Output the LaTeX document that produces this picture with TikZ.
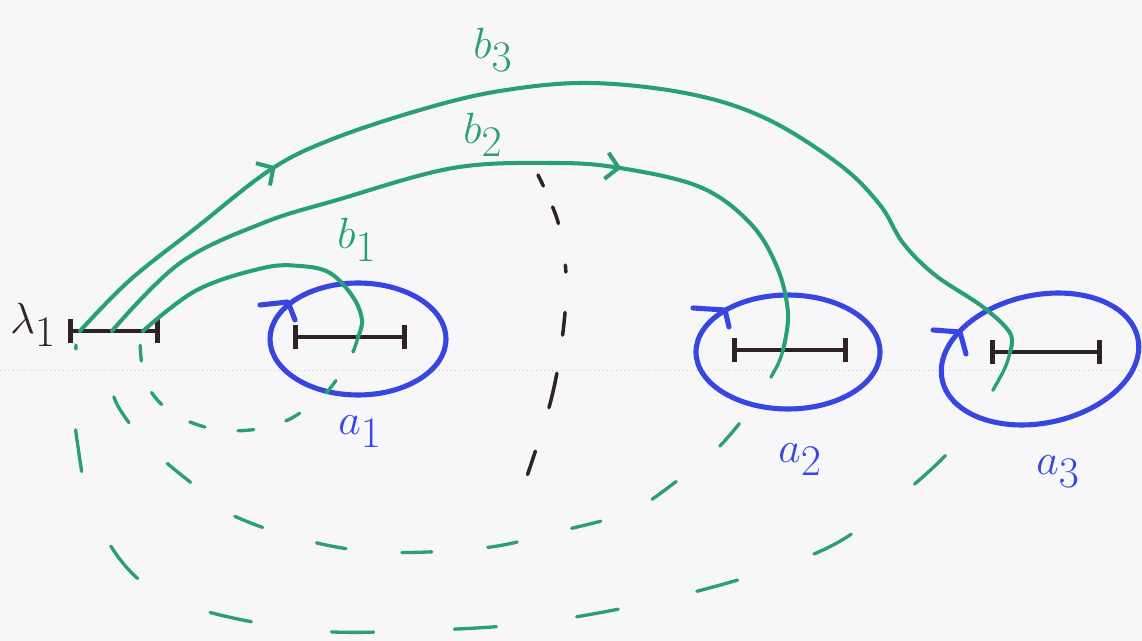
\documentclass[tikz,border=0pt]{standalone}
\usetikzlibrary{arrows.meta,decorations.markings}
\definecolor{pen}{RGB}{45,35,38}
\definecolor{gr}{RGB}{40,160,115}
\definecolor{bl}{RGB}{55,70,225}
\definecolor{paper}{RGB}{247,247,250}
\begin{document}
\begin{tikzpicture}[x=0.02cm,y=0.02cm,
  interval/.style={draw=pen,line width=2.8pt,{Bar[width=14pt]}-{Bar[width=14pt]}},
  loopel/.style={draw=bl,line width=2.9pt},
  barb/.style={draw=bl,line width=2.9pt,line cap=round,line join=round},
  gpath/.style={draw=gr,line width=2.3pt,line cap=round},
  dpath/.style={draw=gr,line width=1.9pt,line cap=round},
  sep/.style={draw=pen,line width=2pt,line cap=round},
  lab/.style={inner sep=0pt,font=\fontsize{34}{38}\selectfont},
  midarrow/.style={postaction={decorate},decoration={markings,
     mark=at position #1 with {\arrow{Straight Barb[length=7pt,width=15pt]}}}}]
\fill[paper] (0,0) rectangle (1142,-641);
\useasboundingbox (0,0) rectangle (1142,-641);
\draw[gray!45,line width=0.4pt,dotted] (0,-370) -- (1142,-370);

% intervals
\coordinate (l0) at (68,-331);  \coordinate (r0) at (160,-331);
\coordinate (l1) at (293,-337); \coordinate (r1) at (407,-337);
\coordinate (l2) at (732,-350); \coordinate (r2) at (848,-350);
\coordinate (l3) at (990,-352); \coordinate (r3) at (1102,-352);
\draw[interval] (l0) -- (r0);
\draw[interval] (l1) -- (r1);
\draw[interval] (l2) -- (r2);
\draw[interval] (l3) -- (r3);

% loops round a_i
\coordinate (c1) at (358,-339);
\coordinate (c2) at (788,-352);
\coordinate (c3) at (1040,-359);
\draw[loopel] (c1) ellipse [x radius=88,y radius=56];
\draw[loopel] (c2) ellipse [x radius=92,y radius=57];
\draw[loopel,rotate around={12:(c3)}] (c3) ellipse [x radius=100,y radius=64];
\draw[barb] (260,-305) -- (288,-302) -- (295,-320);
\draw[barb] (693,-308) -- (725,-310) -- (729,-327);
\draw[barb] (933,-330) -- (960,-332) -- (966,-354);

% start / end points on intervals
\coordinate (s1) at (143,-331); \coordinate (e1) at (358,-337);
\coordinate (s2) at (112,-331); \coordinate (e2) at (783,-350);
\coordinate (s3) at (80,-331);  \coordinate (e3) at (1010,-352);

% solid green paths
\draw[gpath] plot[smooth,tension=0.6] coordinates {(s1) (197,-290) (263,-268) (300,-266) (330,-273) (353,-297) (362,-320) (e1)};
\draw[gpath,midarrow=0.665] plot[smooth,tension=0.6] coordinates {(s2) (180,-263) (263,-223) (337,-200) (453,-168) (553,-163) (620,-168) (700,-187) (750,-223) (777,-267) (788,-313) (e2)};
\draw[gpath,midarrow=0.23] plot[smooth,tension=0.6] coordinates {(s3) (130,-280) (197,-227) (270,-170) (330,-140) (420,-110) (500,-91) (590,-83) (690,-94) (767,-119) (840,-165) (880,-205) (903,-243) (935,-275) (983,-307) (1010,-333) (e3)};

% dashed green returns
\draw[dpath,dash pattern=on 9pt off 19pt] plot[smooth,tension=0.6] coordinates {(e1) (350,-358) (327,-392) (300,-413) (278,-424) (250,-430) (219,-430) (190,-422) (168,-410) (150,-390) (142,-365) (140,-340)};
\draw[dpath,dash pattern=on 17pt off 32pt] plot[smooth,tension=0.6] coordinates {(e2) (776,-368) (752,-407) (716,-450) (677,-481) (629,-512) (556,-532) (483,-548) (378,-552) (297,-538) (228,-513) (195,-486) (158,-455) (127,-420) (112,-390) (110,-345)};
\draw[dpath,dash pattern=on 24pt off 46pt] plot[smooth,tension=0.6] coordinates {(e3) (1003,-372) (978,-414) (949,-452) (895,-500) (823,-550) (698,-591) (556,-620) (432,-630) (297,-629) (160,-594) (97,-522) (77,-440) (75,-385) (76,-345)};

% black dashed separator
\coordinate (t0) at (538,-175); \coordinate (t1) at (525,-482);
\draw[sep,dash pattern=on 7pt off 13pt on 10pt off 24pt on 4pt off 23pt on 13pt off 22pt on 20pt off 26pt on 14pt] plot[smooth,tension=0.6] coordinates {(t0) (558,-222) (566,-275) (563,-332) (551,-400) (t1)};

% labels
\node[lab,text=pen] (lam) at (33,-325) {$\lambda_1$};
\node[lab,text=gr] (b1) at (357,-240) {$b_1$};
\node[lab,text=gr] (b2) at (483,-135) {$b_2$};
\node[lab,text=gr] (b3) at (493,-50) {$b_3$};
\node[lab,text=bl] (a1) at (360,-432) {$a_1$};
\node[lab,text=bl] (a2) at (800,-460) {$a_2$};
\node[lab,text=bl] (a3) at (1058,-472) {$a_3$};
\end{tikzpicture}
\end{document}
